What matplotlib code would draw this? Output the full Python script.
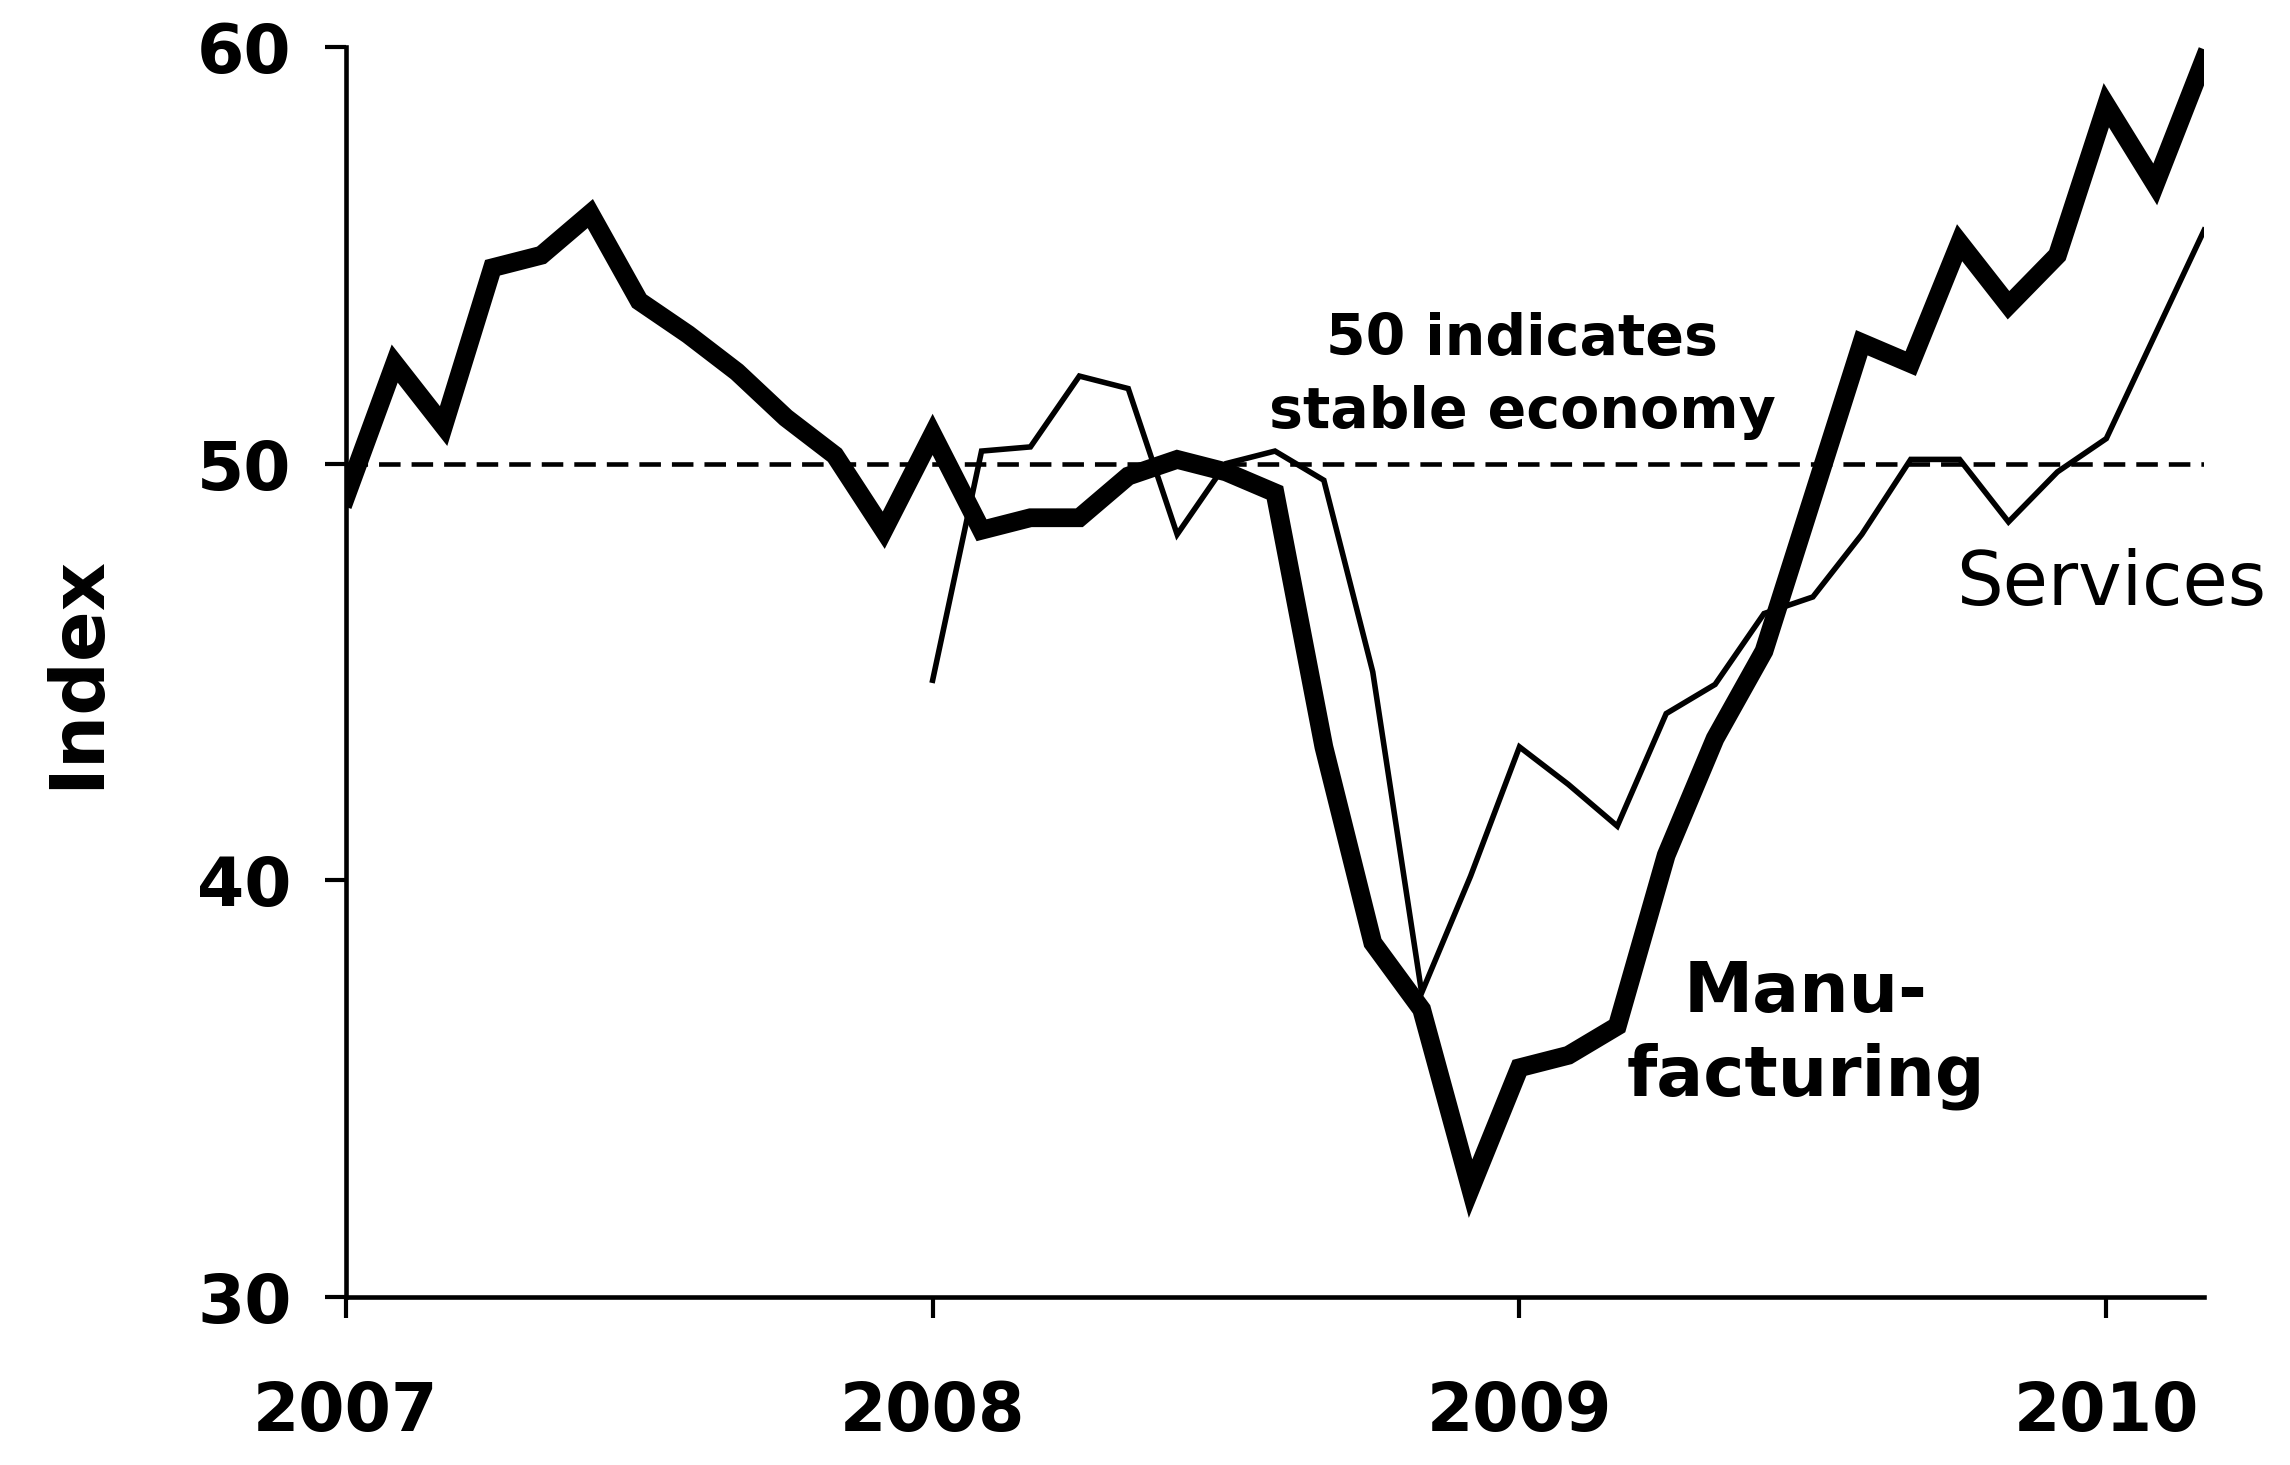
import matplotlib
matplotlib.use('Agg')
import matplotlib.pyplot as plt
import numpy as np

# monthly index, Jan 2007 .. Mar 2010
manufacturing = [49.2, 52.4, 50.9, 54.7, 55.0, 56.0, 53.9, 53.1, 52.2, 51.1, 50.2, 48.4,
                 50.7, 48.4, 48.7, 48.7, 49.7, 50.1, 49.8, 49.3, 43.2, 38.5, 36.9, 32.6,
                 35.5, 35.8, 36.5, 40.6, 43.4, 45.5, 49.2, 52.9, 52.4, 55.3, 53.8, 55.0,
                 58.6, 56.7, 59.7]
# services series starts Jan 2008
services = [44.8, 50.3, 50.4, 52.1, 51.8, 48.3, 50.0, 50.3, 49.6, 45.0, 37.3, 40.1,
            43.2, 42.3, 41.3, 44.0, 44.7, 46.4, 46.8, 48.3, 50.1, 50.1, 48.6, 49.8,
            50.6, 53.1, 55.6]
year_labels = ['2007', '2008', '2009', '2010']
y_ticks = [30, 40, 50, 60]

months_m = np.arange(len(manufacturing))
months_s = np.arange(12, 12 + len(services))

fig = plt.figure(figsize=(22.9, 14.65), dpi=100)
ax = fig.add_axes([0.151, 0.1147, 0.8115, 0.8533])

ax.axhline(50, color='black', lw=3.3, linestyle=(0, (4.7, 2.4)))
ax.plot(months_s, services, color='black', lw=4, solid_joinstyle='miter')
ax.plot(months_m, manufacturing, color='black', lw=13.5, solid_joinstyle='miter')

ax.set_xlim(0, 38)
ax.set_ylim(30, 60)
ax.set_yticks(y_ticks)
ax.set_xticks([0, 12, 24, 36])
ax.set_xticklabels(year_labels)

for s in ['top', 'right']:
    ax.spines[s].set_visible(False)
for s in ['left', 'bottom']:
    ax.spines[s].set_linewidth(3.3)

ax.tick_params(axis='y', direction='out', length=15, width=3, pad=24,
               labelsize=49)
ax.tick_params(axis='x', direction='out', length=15, width=3, pad=44,
               labelsize=48)
for lab in ax.get_xticklabels() + ax.get_yticklabels():
    lab.set_fontweight('bold')

ax.set_ylabel('Index', fontsize=54, fontweight='bold', labelpad=60)

ax.text(24.06, 52.1, '50 indicates\nstable economy', ha='center', va='center',
        fontsize=41, fontweight='bold', linespacing=1.4)
ax.text(29.85, 36.3, 'Manu-\nfacturing', ha='center', va='center',
        fontsize=50, fontweight='bold', linespacing=1.32)
ax.text(36.1, 47.1, 'Services', ha='center', va='center', fontsize=53)

plt.savefig('out.png', dpi=100)
